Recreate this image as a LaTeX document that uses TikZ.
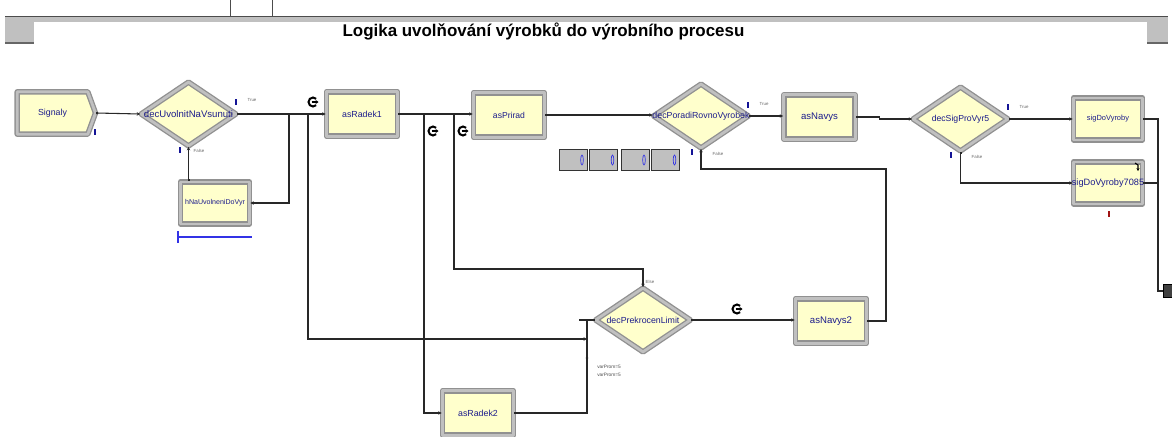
\documentclass[tikz,border=0pt]{standalone}
\usepackage{fontspec}
\setmainfont{Liberation Sans}
\usetikzlibrary{shapes.geometric,shapes.misc,shapes.symbols,arrows.meta}
\definecolor{modfill}{RGB}{255,255,204}
\definecolor{modedge}{RGB}{145,145,145}
\definecolor{modlite}{RGB}{192,192,192}
\definecolor{modtext}{RGB}{28,28,140}
\definecolor{markblue}{RGB}{20,20,150}
\definecolor{markred}{RGB}{160,20,20}
\definecolor{barblue}{RGB}{50,50,230}
\definecolor{framegray}{RGB}{192,192,192}
\definecolor{wire}{RGB}{40,40,40}
\begin{document}
\begin{tikzpicture}[x=0.75pt,y=-0.75pt,
  mod/.style={draw=modedge, double=modlite, double distance=2.1pt, line width=1pt,
    fill=modfill, inner sep=0pt, line join=round},
  octa/.style={mod, chamfered rectangle, chamfered rectangle xsep=5.5pt,
    chamfered rectangle ysep=5.5pt, minimum width=53.5pt, minimum height=33.25pt},
  boxmod/.style={mod, rectangle, minimum width=52pt, minimum height=31.5pt},
  decmod/.style={mod, diamond, minimum width=71.5pt, minimum height=48.25pt},
  sigmod/.style={mod, signal, signal to=east, signal pointer angle=140,
    minimum width=58.75pt, minimum height=31.75pt},
  mtext/.style={font=\fontsize{6.6}{7}\selectfont, text=modtext, inner sep=0pt},
  tinytext/.style={font=\fontsize{3.3}{4}\selectfont, text=black!60, inner sep=0pt},
  condtext/.style={font=\fontsize{3.6}{4.5}\selectfont, text=black!70, inner sep=0pt, anchor=west},
  markI/.style={rectangle, fill=markblue, inner sep=0pt, minimum width=1.8pt, minimum height=5.2pt},
  queuebox/.style={rectangle, fill=framegray, draw=black!80, line width=0.6pt,
    minimum width=21pt, minimum height=15.75pt, inner sep=0pt},
  queueeye/.style={ellipse, draw=barblue, line width=0.5pt, minimum width=2pt,
    minimum height=7.5pt, inner sep=0pt},
  wire/.style={draw=wire, line width=0.8pt},
  flow/.style={wire, {Square[length=1.5pt,width=1.5pt]}-{Stealth[length=2.6pt,width=2.6pt]}},
  branch/.style={wire, -{Stealth[length=2.6pt,width=2.6pt]}},
  routeicon/.pic={
    \draw[line width=1.5pt] (45:4.5) arc[start angle=45, end angle=315, radius=4.5];
    \draw[line width=1pt, -{Stealth[length=2.2pt,width=3pt]}] (-1.5,0) -- (5.5,0);
  }
]
\useasboundingbox (0,0) rectangle (1172,436);

% title bar
\fill[framegray] (5,16) rectangle (1168,43);
\fill[white] (34,22) rectangle (1147,43);
\draw[black!60, line width=1.5pt] (5,42.5) -- (34,42.5);
\draw[black!60, line width=1.5pt] (1147,42.5) -- (1168,42.5);
\draw[black!70, line width=0.5pt] (5,16) -- (1168,16);
\draw[black!70, line width=0.6pt] (230,0) -- (230,16);
\draw[black!70, line width=0.6pt] (272,0) -- (272,16);
\node[font=\bfseries\fontsize{12.7}{15}\selectfont] (title) at (543.5,31)
  {Logika uvolňování výrobků do výrobního procesu};

% modules
\node[sigmod, anchor=west, label={[mtext]center:Signaly}] (sig) at (16.5,113) {};
\node[decmod, label={[mtext,font=\fontsize{7.2}{8}\selectfont]center:decUvolnitNaVsunuti}] (dUv) at (188.5,114) {};
\node[boxmod, label={[mtext,font=\fontsize{5.3}{6}\selectfont]center:hNaUvolneniDoVyr}] (hold) at (215,203) {};
\node[octa, label={[mtext]center:asRadek1}] (ar1) at (362,114) {};
\node[octa, label={[mtext,font=\fontsize{6.45}{7}\selectfont]center:asPrirad}] (asP) at (509,115) {};
\node[decmod, label={[mtext]center:decPoradiRovnoVyrobek}] (dPo) at (701,116) {};
\node[octa, label={[mtext,font=\fontsize{7.2}{8}\selectfont]center:asNavys}] (asN) at (819.5,117) {};
\node[decmod, label={[mtext,font=\fontsize{6.5}{7}\selectfont]center:decSigProVyr5}] (dSig) at (960.5,119) {};
\node[boxmod, label={[mtext,font=\fontsize{5.6}{6}\selectfont]center:sigDoVyroby}] (sigDo) at (1108,119) {};
\node[boxmod, label={[mtext,font=\fontsize{6.9}{7}\selectfont]center:sigDoVyroby7085}] (sig7085) at (1108,183) {};
\node[decmod, label={[mtext]center:decPrekrocenLimit}] (dPL) at (643,320) {};
\node[octa, label={[mtext,font=\fontsize{7.2}{8}\selectfont]center:asNavys2}] (aN2) at (831,321) {};
\node[octa, label={[mtext]center:asRadek2}] (aR2) at (478,413) {};
\node[rectangle, fill=black!75, draw=black, line width=0.4pt, inner sep=0pt,
  minimum width=6.75pt, minimum height=10pt] (term) at (1168,291) {};

% variable display boxes
\node[queuebox] (q1) at (573,160) {};
\node[queuebox] (q2) at (603.5,160) {};
\node[queuebox] (q3) at (635,160) {};
\node[queuebox] (q4) at (665.5,160) {};
\node[queueeye] (q1e) at (582,160) {};
\node[queueeye] (q2e) at (612.5,160) {};
\node[queueeye] (q3e) at (644,160) {};
\node[queueeye] (q4e) at (674.5,160) {};

% branch points
\coordinate (j1) at (289,114);
\coordinate (j2) at (308,114);
\coordinate (j3) at (424,114);
\coordinate (j4) at (454,114);
\coordinate (k1) at (587,339);
\coordinate (k2) at (643,269);
\coordinate (k5) at (1158,291);
\coordinate (k6) at (886,169);
\coordinate (k7) at (587,320);
\coordinate (k7l) at (579,320);

% connectors
\draw[flow] (sig.east) -- (dUv.west);
\draw[flow] (dUv.east) -- (ar1.west);
\draw[branch] (j1) |- (hold.east);
\draw[flow] (dUv.south |- hold.north) -- (dUv.south);
\draw[branch] (j2) |- (k1);
\draw[flow] (ar1.east) -- (ar1.east -| asP.west);
\draw[branch] (j3) |- (aR2.west);
\draw[branch] (j4) |- (k2) -- (dPL.north);
\draw[flow] (asP.east) -- (asP.east -| dPo.west);
\draw[flow] (dPo.east) -- (dPo.east -| asN.west);
\draw[flow] (asN.east) -- ++(24,0) |- (dSig.west);
\draw[flow] (dSig.east) -- (sigDo.west);
\draw[flow] (dSig.south) |- (sig7085.west);
\draw[wire] (sigDo.east) -| (k5) -- (term.west);
\draw[wire] (sig7085.east) -- (sig7085.east -| k5);
\draw[flow] (aN2.east) -| (k6) -| (dPo.south);
\draw[flow] (dPL.east) -- (dPL.east -| aN2.west);
\draw[wire] (aR2.east) -| (k7);
\draw[wire] (k7l) -- (dPL.west);
\fill[wire] (587,358) circle[radius=0.7];

% branch labels
\node[tinytext] (tU) at (252,100) {True};
\node[tinytext] (fU) at (199,151) {False};
\node[tinytext] (tP) at (764,104) {True};
\node[tinytext] (fP) at (718,154) {False};
\node[tinytext] (tS) at (1024,107) {True};
\node[tinytext] (fS) at (977,157) {False};
\node[tinytext] (eL) at (650,282) {Else};
\node[condtext] (c1) at (597,367) {varProm=5};
\node[condtext] (c2) at (597,375) {varProm=5};

% animation markers
\node[markI] (m1) at (95,132) {};
\node[markI] (m2) at (236,102) {};
\node[markI] (m3) at (180,150) {};
\node[markI] (m4) at (748,105) {};
\node[markI] (m5) at (692,152) {};
\node[markI] (m6) at (1008,107) {};
\node[markI] (m7) at (951,155) {};
\node[markI, fill=markred] (m8) at (1109,214) {};

% hold queue line
\draw[barblue, line width=0.8pt] (178,237) -- (252,237);
\draw[barblue, line width=0.8pt] (178,231) -- (178,243);

% route icons
\pic at (313,102) {routeicon};
\pic at (433,131) {routeicon};
\pic at (463,131) {routeicon};
\pic at (737,309) {routeicon};

% signal arrow glyph
\draw[line width=0.8pt, -{Stealth[length=2.2pt,width=2.4pt]}] (1135,163) -- (1138,165) -- (1138,171);
\end{tikzpicture}
\end{document}
